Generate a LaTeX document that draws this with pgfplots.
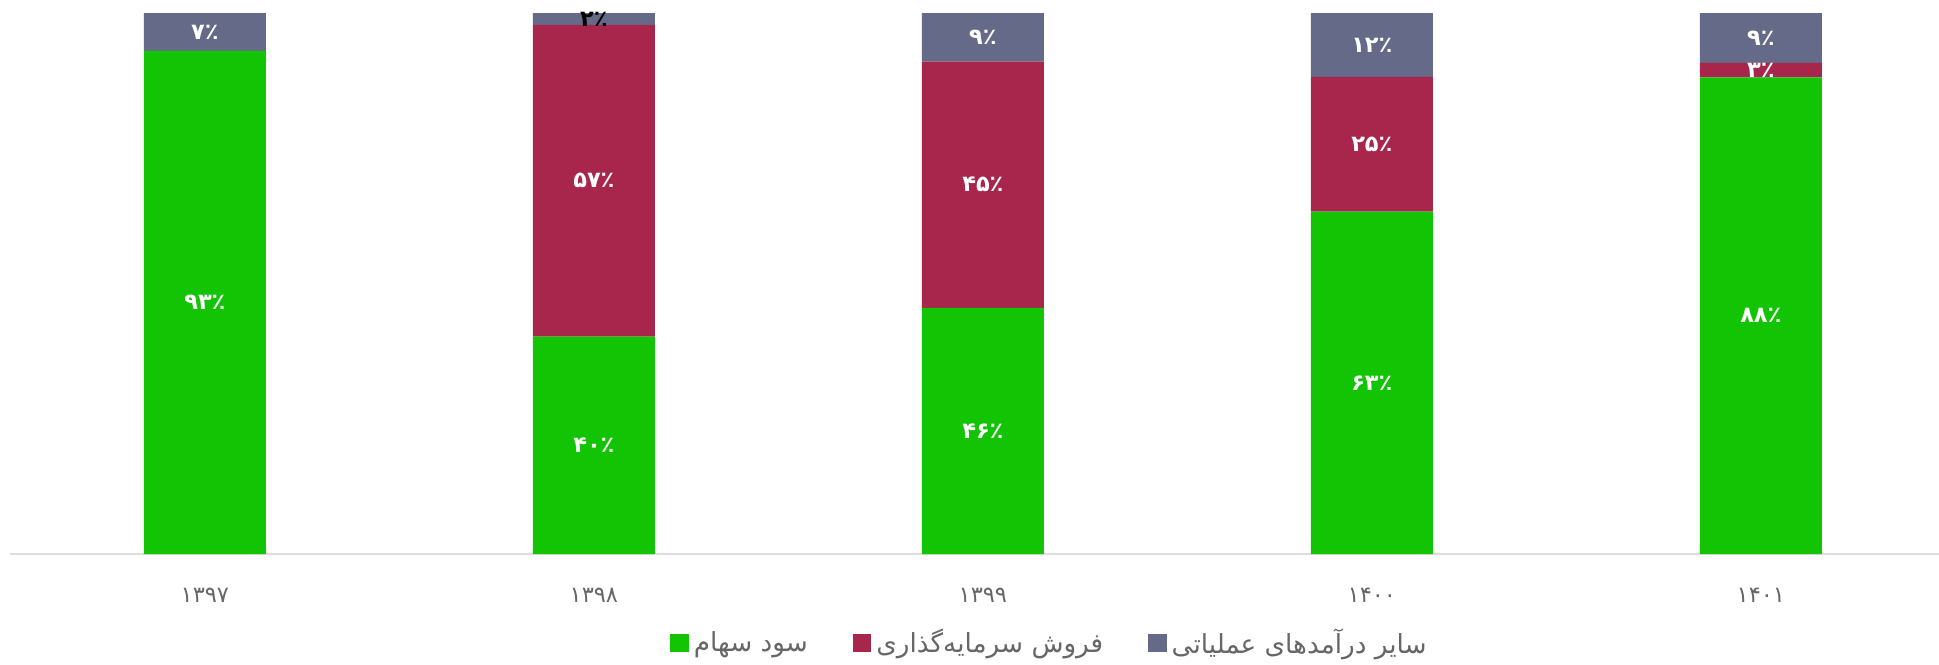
\documentclass[border=0pt]{standalone}
\usepackage{pgfplots}
\pgfplotsset{compat=1.18}
\usepackage{pgfplotstable}
\usepackage{fontspec}
\newfontfamily\fa[Script=Arabic]{DejaVu Sans}
\TeXXeTstate=1
\definecolor{cgreen}{RGB}{18,196,4}
\definecolor{cred}{RGB}{168,38,76}
\definecolor{cgray}{RGB}{100,106,135}
\definecolor{caxis}{RGB}{221,221,221}
\definecolor{ctick}{RGB}{102,102,102}

% x = category index, v = share in percent, label = printed value
\pgfplotstableread{
x v label
0 93.0 ۹۳٪
1 40.2 ۴۰٪
2 45.5 ۴۶٪
3 63.3 ۶۳٪
4 88.1 ۸۸٪
}\sood
\pgfplotstableread{
x v label
0 0.0 {}
1 57.6 ۵۷٪
2 45.5 ۴۵٪
3 24.9 ۲۵٪
4 2.7 ۳٪
}\forush
\pgfplotstableread{
x v label
0 7.0 ۷٪
1 2.2 {\textcolor{black}{۲٪}}
2 9.0 ۹٪
3 11.8 ۱۲٪
4 9.2 ۹٪
}\sayer

\begin{document}
\begin{tikzpicture}
\begin{axis}[
    at={(4pt,44pt)}, anchor=south west,
    scale only axis,
    width=771.6pt, height=216.4pt,
    ybar stacked,
    bar width=48.8pt,
    xmin=-0.501, xmax=4.458,
    ymin=0, ymax=100,
    clip=false,
    axis x line=bottom,
    axis y line=none,
    axis line style={caxis, line width=0.8pt, -},
    xtick={0,1,2,3,4},
    xticklabels={۱۳۹۷,۱۳۹۸,۱۳۹۹,۱۴۰۰,۱۴۰۱},
    major tick length=0pt,
    xticklabel style={font=\fa\fontsize{9}{10}\selectfont, text=ctick, anchor=center, yshift=-16.4pt},
    nodes near coords,
    point meta=explicit symbolic,
    every node near coord/.append style={
        font=\fa\bfseries\fontsize{9}{10}\selectfont, text=white, anchor=center},
    legend columns=3,
    legend style={at={(0.5397,-0.1645)}, anchor=center, draw=none, fill=none,
        font=\fa\fontsize{10.5}{12}\selectfont, text=ctick,
        /tikz/every even column/.append style={column sep=16pt}},
    legend image code/.code={\fill[#1, draw=none] (0pt,-3.7pt) rectangle (7.4pt,3.7pt);},
]
\addplot[fill=cgreen, draw=none] table[x=x, y=v, meta=label] {\sood};
\addlegendentry{\beginR سود سهام\endR}
\addplot[fill=cred, draw=none] table[x=x, y=v, meta=label] {\forush};
\addlegendentry{\beginR فروش سرمایه‌گذاری\endR}
\addplot[fill=cgray, draw=none] table[x=x, y=v, meta=label] {\sayer};
\addlegendentry{\beginR سایر درآمدهای عملیاتی\endR}
\end{axis}
\pgfresetboundingbox
\path[use as bounding box] (0,0) rectangle (775.6pt,265.6pt);
\end{tikzpicture}
\end{document}
